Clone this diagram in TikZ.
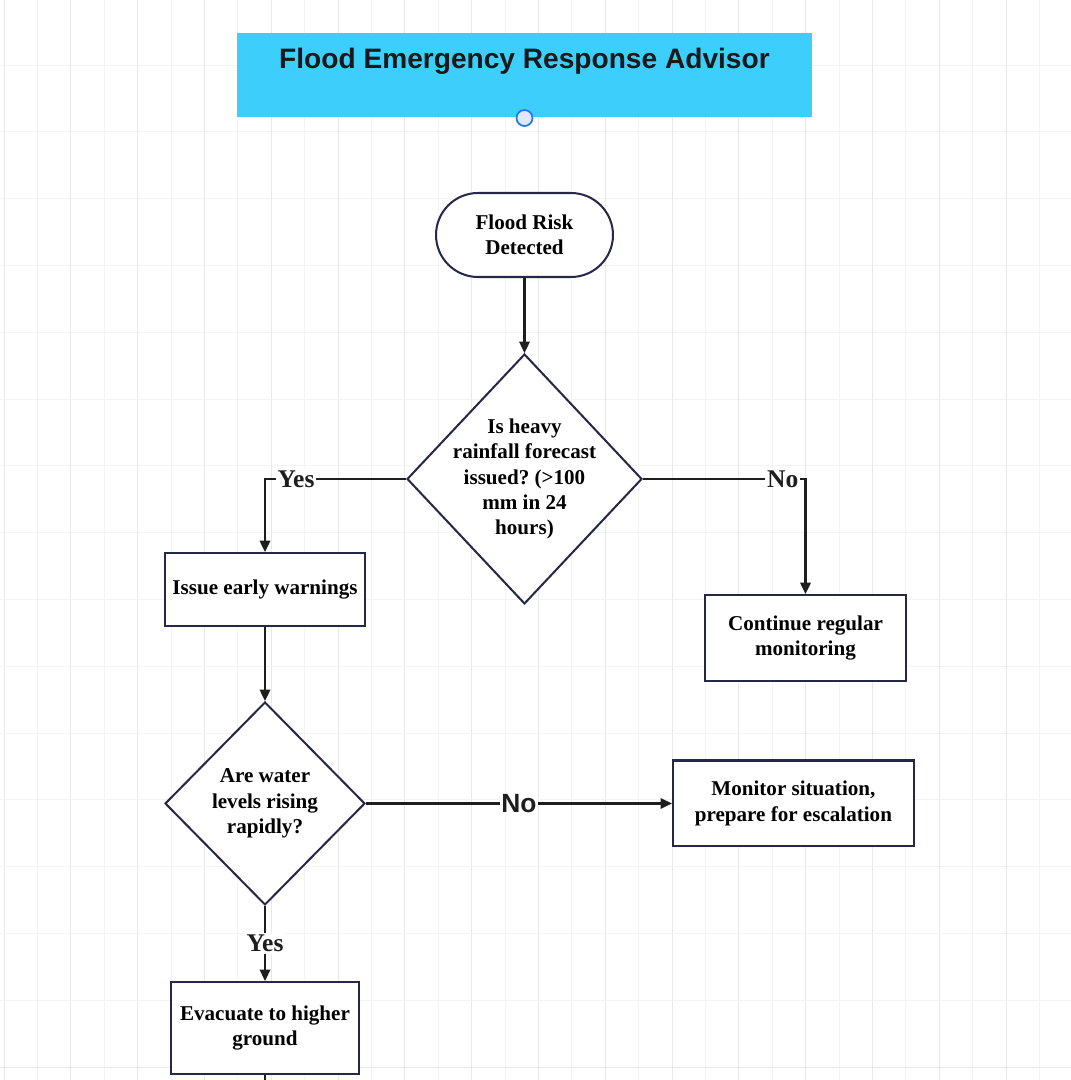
\documentclass[tikz,border=0pt]{standalone}
\usepackage{fontspec}
\setmainfont{Liberation Serif}
\newfontfamily\headfont{Liberation Sans}
\usepackage{xcolor}
\usetikzlibrary{positioning,arrows.meta,shapes.geometric}
\definecolor{titleblue}{RGB}{61,207,251}
\definecolor{navyline}{RGB}{38,40,72}
\definecolor{arrowdark}{RGB}{30,30,30}
\definecolor{gridmajor}{RGB}{232,232,232}
\definecolor{gridminor}{RGB}{243,243,243}
\definecolor{handlefill}{RGB}{220,234,252}
\definecolor{handleblue}{RGB}{36,121,228}
\tikzset{every node/.style={font=\fontsize{12}{14.5}\selectfont\bfseries}}
\frenchspacing

\begin{document}
\begin{tikzpicture}[
    x=0.02cm, y=-0.02cm,
    >={Triangle[length=6.5pt,width=6pt]},
    line width=1.15pt,
    block/.style={rectangle, draw=navyline, fill=white, align=center, inner sep=2pt},
    decision/.style={diamond, draw=navyline, fill=white, align=center, inner sep=-8pt},
    terminal/.style={rectangle, rounded corners=0.84cm, draw=navyline, fill=white, align=center,
        minimum width=3.54cm, minimum height=1.68cm},
    flow/.style={->, draw=arrowdark},
    answer/.style={fill=white, inner sep=1pt, text=arrowdark, font=\fontsize{14.5}{16}\selectfont\bfseries}
]
\useasboundingbox (0,0) rectangle (1071,1080);

% background grid
\foreach \i in {0,...,15} {
    \draw[gridminor, line width=0.5pt] ({37.4+66.8*\i},0) -- ({37.4+66.8*\i},1080);
    \draw[gridmajor, line width=0.5pt] ({4+66.8*\i},0) -- ({4+66.8*\i},1080);
    \draw[gridminor, line width=0.5pt] (0,{-1.8+66.8*\i}) -- (1071,{-1.8+66.8*\i});
    \draw[gridmajor, line width=0.5pt] (0,{65+66.8*\i}) -- (1071,{65+66.8*\i});
}

% title
\node (title) [fill=titleblue, minimum width=11.5cm, inner sep=0pt, text height=0.7cm, text depth=0.98cm,
    font=\headfont\fontsize{16}{18}\selectfont\bfseries, text=black!90] at (524.5,75) {Flood Emergency Response Advisor};
\node (handle) [circle, draw=handleblue, fill=handlefill, line width=1pt, minimum size=0.32cm, inner sep=0pt] at (title.south) {};

\node (start) [terminal, below=1.48cm of title] {Flood Risk\\Detected};

\node (rain) [decision, below=1.5cm of start, minimum width=4.7cm, minimum height=5cm, aspect=0.94]
    {Is heavy\\rainfall forecast\\issued? (>100\\mm in 24\\hours)};

\node (warn) [block, minimum width=4cm, minimum height=1.46cm] at (265,589.5) {Issue early warnings};
\node (regular) [block, minimum width=4.02cm, minimum height=1.72cm] at (805.5,638) {Continue regular\\monitoring};

\node (levels) [decision, below=1.48cm of warn, minimum width=4cm, minimum height=4.06cm]
    {Are water\\levels rising\\rapidly?};

\node (escalate) [block, right=6.12cm of levels, minimum width=4.82cm, minimum height=1.72cm]
    {Monitor situation,\\prepare for escalation};

\node (evacuate) [block, below=1.5cm of levels, minimum width=3.76cm, minimum height=1.84cm]
    {Evacuate to higher\\ground};

\coordinate (onward) at (265,1080);

\draw[flow] (start) -- (rain);
\draw[flow] (rain.west) -| node[answer, pos=0.39]{Yes} (warn);
\draw[flow] (rain.east) -| node[answer, pos=0.43]{No} (regular);
\draw[flow] (warn) -- (levels);
\draw[flow] (levels) -- node[answer, font=\headfont\fontsize{15}{16}\selectfont\bfseries]{No} (escalate);
\draw[flow] (levels) -- node[answer]{Yes} (evacuate);
\draw[arrowdark] (evacuate) -- (onward);

\end{tikzpicture}
\end{document}
